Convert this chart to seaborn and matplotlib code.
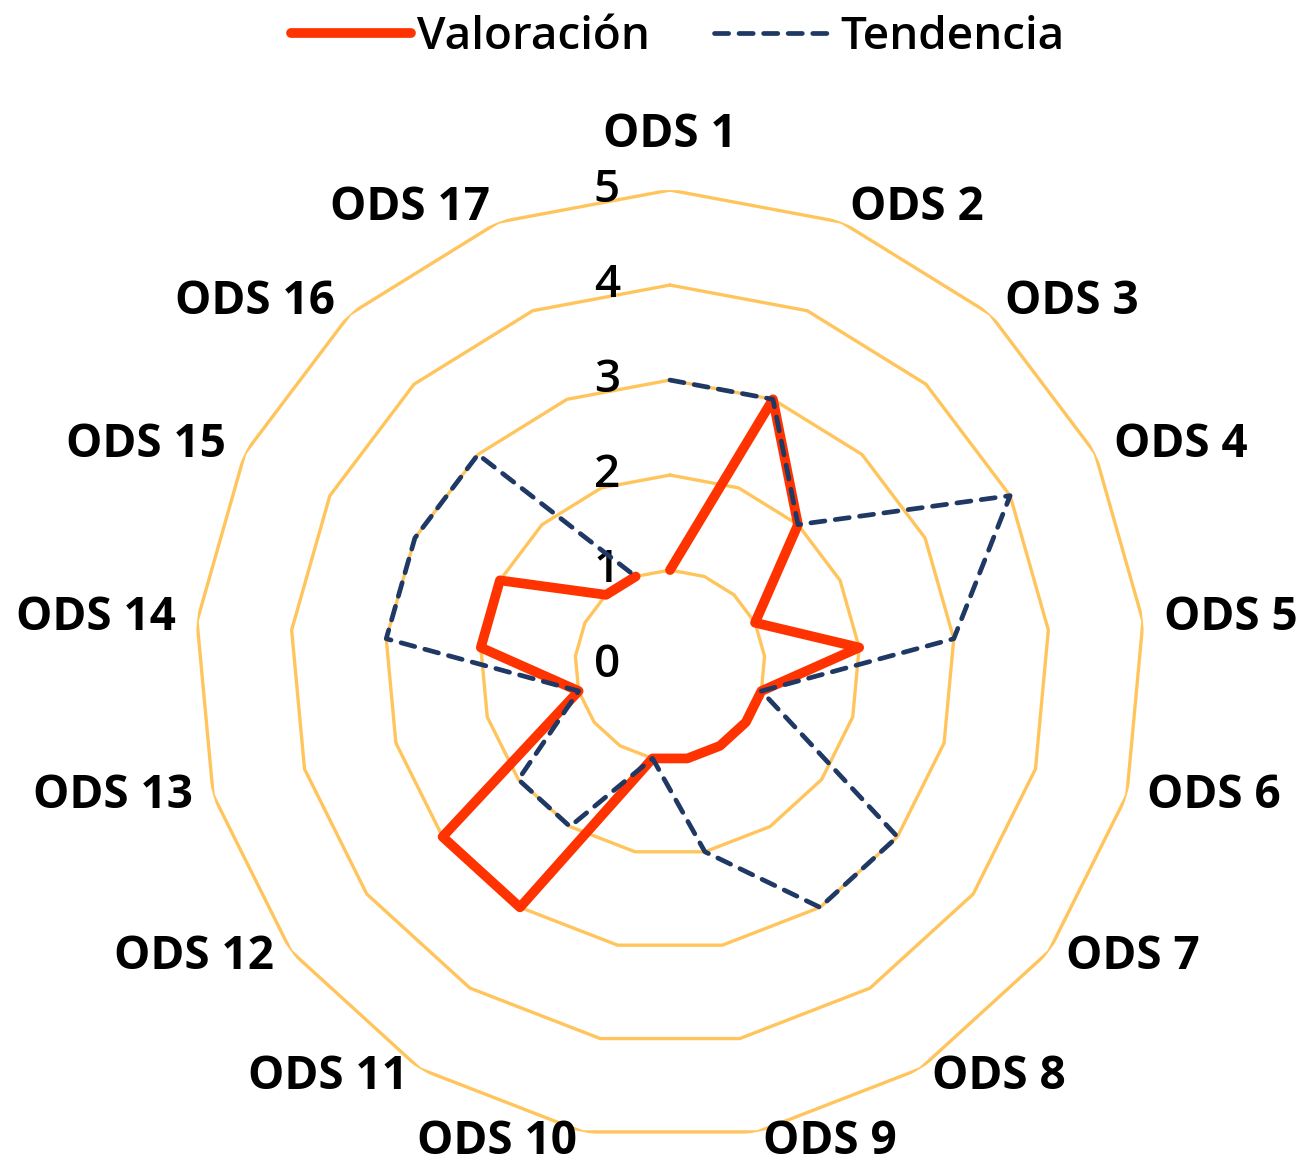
import numpy as np
import seaborn as sns
import matplotlib.pyplot as plt

# data
categorias = ["ODS %d" % i for i in range(1, 18)]
valoracion = [1, 3, 2, 1, 2, 1, 1, 1, 1, 1, 3, 3, 1, 2, 2, 1, 1]
tendencia = [3, 3, 2, 4, 3, 1, 3, 3, 2, 1, 2, 2, 1, 3, 3, 3, 1]
niveles = [1, 2, 3, 4, 5]

rojo = "#FF3300"
azul = "#1F3864"
rejilla = "#FFC55C"

sns.set_theme(style="white")
plt.rcParams["font.family"] = ["Open Sans", "DejaVu Sans"]
plt.rcParams["text.color"] = "black"

n = len(categorias)
ang = np.linspace(0, 2 * np.pi, n, endpoint=False)
ang_c = np.append(ang, ang[0])

fig = plt.figure(figsize=(13.04, 11.69), dpi=100)
ax = fig.add_axes([0.1495, 0.0248, 0.7286, 0.8126], projection="polar")
ax.set_theta_zero_location("N")
ax.set_theta_direction(-1)

# polygon grid
for lv in niveles:
    ax.plot(ang_c, [lv] * (n + 1), color=rejilla, lw=2.4, zorder=1)

sns.lineplot(x=ang_c, y=valoracion + valoracion[:1], ax=ax, sort=False,
             color=rojo, lw=7, label="Valoración", zorder=3)
sns.lineplot(x=ang_c, y=tendencia + tendencia[:1], ax=ax, sort=False,
             color=azul, lw=3.4, label="Tendencia", zorder=4)
ax.lines[-1].set_linestyle((0, (3, 2.2)))
ax.lines[-1].set_dash_capstyle("round")

ax.set_ylim(0, 5)
ax.set_xticks([])
ax.set_yticks([])
ax.grid(False)
ax.spines["polar"].set_visible(False)
ax.set_facecolor("none")

# radial labels
for lv in [0] + niveles:
    ax.annotate(str(lv), xy=(0, lv), xytext=(-50, 0), textcoords="offset pixels",
                ha="right", va="center", fontsize=33, fontweight="semibold",
                color="black")

# category labels
for i, (a, lab) in enumerate(zip(ang, categorias)):
    s, c = np.sin(a), np.cos(a)
    if i == 0:
        off, ha, va = (0, 32), "center", "bottom"
    else:
        ha = "left" if s > 0 else "right"
        off = (np.sign(s) * (19 * abs(s) + 2), 13 * c + 3)
        va = "center"
    ax.annotate(lab, xy=(a, 5), xytext=off, textcoords="offset pixels",
                ha=ha, va=va, fontsize=33, fontweight="bold", color="black",
                annotation_clip=False)

ax.get_legend().remove()
h, l = ax.get_legend_handles_labels()
leg = fig.legend(h, l, loc="center", bbox_to_anchor=(0.52, 0.968), ncol=2,
                 frameon=False, fontsize=33, handlelength=2.6, handletextpad=0.15,
                 columnspacing=1.4)
for t in leg.get_texts():
    t.set_color("black")
    t.set_fontweight("semibold")

fig.savefig("out.png", dpi=100)
